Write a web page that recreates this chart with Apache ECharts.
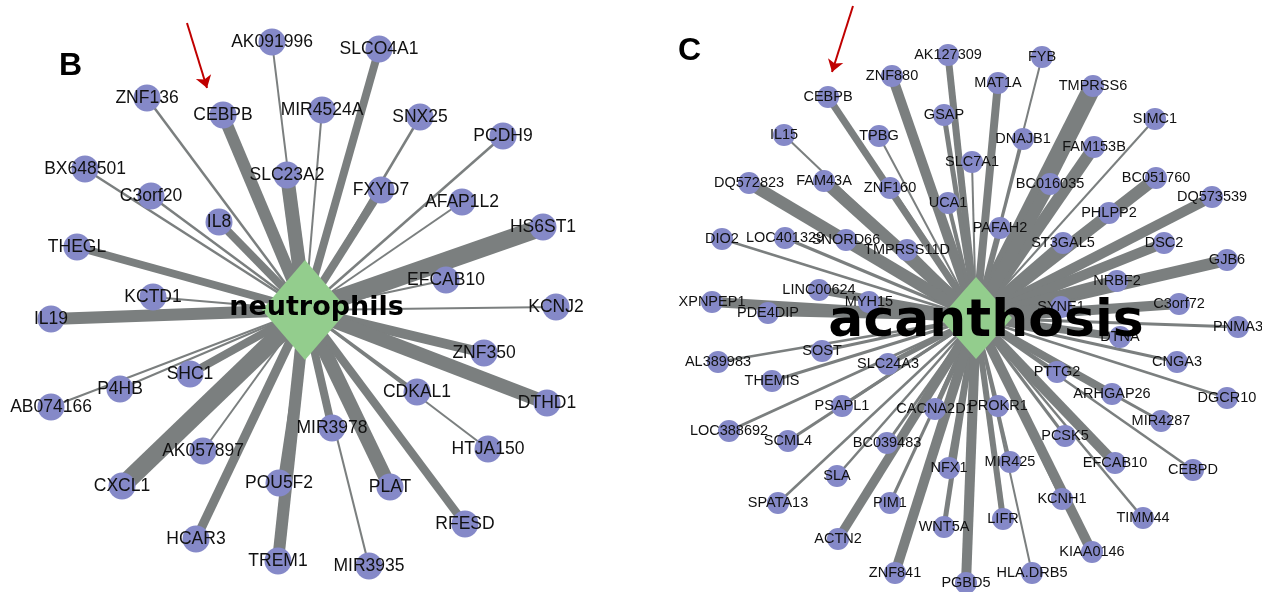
<!DOCTYPE html>
<html>
<head>
<meta charset="utf-8">
<script src="https://cdn.jsdelivr.net/npm/echarts@6/dist/echarts.min.js"></script>
<style>
  html, body { margin: 0; padding: 0; background: #fff; }
  #chart { width: 1262px; height: 592px; }
</style>
</head>
<body>
<div id="chart"></div>
<script>
// panel B: genes linked to neutrophils
const hubB = { name: 'neutrophils', x: 305, y: 310 };
const genesB = ['AK091996','ZNF136','CEBPB','MIR4524A','SLCO4A1','SNX25','PCDH9','SLC23A2','FXYD7','AFAP1L2','HS6ST1','BX648501','C3orf20','IL8','THEGL','EFCAB10','KCTD1','KCNJ2','IL19','ZNF350','SHC1','P4HB','AB074166','CDKAL1','DTHD1','MIR3978','AK057897','HTJA150','POU5F2','CXCL1','PLAT','RFESD','HCAR3','TREM1','MIR3935'];
const xB = [272,147,223,322,379,420,503,287,381,462,543,85,151,219,77,446,153,556,51,484,190,120,51,417,547,332,203,488,279,122,390,465,196,278,369];
const yB = [42,98,115,110,49,117,136,175,190,202,227,169,196,222,247,280,297,307,319,353,374,389,407,392,403,428,451,449,483,486,487,524,539,561,566];
const weightB = [2,2.5,12,2,8,2.5,2.5,14,8,2,18,2.5,2.5,8,8,2,2,2,12,10,8,2,2,3,14,8,2,2,3,18,14,8,9,12,2];

// panel C: genes linked to acanthosis
const hubC = { name: 'acanthosis', x: 976, y: 318 };
const genesC = ['CEBPB','ZNF880','AK127309','FYB','MAT1A','TMPRSS6','GSAP','SIMC1','IL15','TPBG','DNAJB1','FAM153B','SLC7A1','BC051760','FAM43A','DQ572823','BC016035','ZNF160','DQ573539','UCA1','PHLPP2','PAFAH2','DIO2','LOC401329','SNORD66','ST3GAL5','DSC2','TMPRSS11D','GJB6','NRBF2','LINC00624','XPNPEP1','MYH15','C3orf72','SYNE1','PDE4DIP','PNMA3','DTNA','SOST','AL389983','CNGA3','SLC24A3','PTTG2','THEMIS','ARHGAP26','DGCR10','PSAPL1','PROKR1','CACNA2D1','MIR4287','LOC388692','PCSK5','SCML4','BC039483','MIR425','EFCAB10','NFX1','CEBPD','SLA','KCNH1','SPATA13','PIM1','LIFR','TIMM44','WNT5A','ACTN2','KIAA0146','ZNF841','HLA.DRB5','PGBD5'];
const xC = [828,892,948,1042,998,1093,944,1155,784,879,1023,1094,972,1156,824,749,1050,890,1212,948,1109,1000,722,785,846,1063,1164,907,1227,1117,819,712,869,1179,1061,768,1238,1120,822,718,1177,888,1057,772,1112,1227,842,998,935,1161,729,1065,788,887,1010,1115,949,1193,837,1062,778,890,1003,1143,944,838,1092,895,1032,966];
const yC = [97,76,55,57,83,86,115,119,135,136,139,147,162,178,181,183,184,188,197,203,213,228,239,238,240,243,243,250,260,281,290,302,302,304,307,313,327,337,351,362,362,364,372,381,394,398,406,406,409,421,431,436,441,443,462,463,468,470,476,499,503,503,519,518,527,539,552,573,573,583];
const weightC = [7,10,7,2,8,18,5,2,2,2,2.5,12,2,12,12,12,12,5,10,4,8,6,2.5,3,10,10,10,8,12,12,8,10,6,10,12,6,3,8,3,2.5,3,5,3,3,8,2.5,3,3,5,3,3,3,3,3,3,10,5,2.5,2.5,4,2.5,3,6,2.5,5,9,10,10,2,10];

// red arrows pointing at CEBPB
const arrows = [
  [[187, 23], [207, 88]],
  [[853, 6], [832, 72]]
];
const panelLetters = ['B', 'C'];

const geneColor = '#8589c8';
const hubColor = '#93cd8d';
const edgeColor = '#7b7f7f';
const labelFont = 'Liberation Sans, Arial, sans-serif';

function buildGraph(hub, names, xs, ys, weights, nodeSize, fontSize, hubSize, hubFont, hubOffset) {
  let nodes = [];
  let links = [];
  for (let i = 0; i < names.length; i++) {
    nodes.push({
      name: names[i],
      value: [xs[i], ys[i]],
      symbolSize: nodeSize,
      label: { fontSize: fontSize }
    });
    links.push({ source: names[i], target: hub.name, lineStyle: { width: weights[i] } });
  }
  nodes.push({
    name: hub.name,
    value: [hub.x, hub.y],
    symbol: 'diamond',
    symbolSize: hubSize,
    itemStyle: { color: hubColor },
    label: {
      fontSize: hubFont,
      fontWeight: 'bold',
      fontFamily: 'DejaVu Sans, sans-serif',
      offset: hubOffset,
      color: '#000'
    }
  });
  return {
    type: 'graph',
    layout: 'none',
    coordinateSystem: 'cartesian2d',
    animation: false,
    silent: true,
    itemStyle: { color: geneColor },
    label: {
      show: true,
      position: 'inside',
      color: '#111',
      fontFamily: labelFont,
      formatter: '{b}'
    },
    lineStyle: { color: edgeColor, opacity: 1, curveness: 0 },
    emphasis: { disabled: true },
    data: nodes,
    links: links
  };
}

const letterStyle = {
  color: '#000',
  fontSize: 32,
  fontWeight: 'bold',
  fontFamily: 'Liberation Sans, Arial, sans-serif'
};

let option = {
  backgroundColor: '#fff',
  animation: false,
  title: [
    { text: panelLetters[0], left: 59, top: 50, padding: 0, textStyle: letterStyle },
    { text: panelLetters[1], left: 678, top: 35, padding: 0, textStyle: letterStyle }
  ],
  grid: { left: 0, right: 0, top: 0, bottom: 0 },
  xAxis: { type: 'value', min: 0, max: 1262, show: false },
  yAxis: { type: 'value', min: 0, max: 592, inverse: true, show: false },
  series: [
    buildGraph(hubB, genesB, xB, yB, weightB, 27, 17.5, [86, 100], 27, [11.5, -2.5]),
    buildGraph(hubC, genesC, xC, yC, weightC, 22, 14.5, [72, 82], 52, [10, 4]),
    {
      type: 'lines',
      coordinateSystem: 'cartesian2d',
      silent: true,
      symbol: ['none', 'arrow'],
      symbolSize: 12,
      lineStyle: { color: '#c00000', width: 2, opacity: 1 },
      data: arrows.map(a => ({ coords: a })),
      z: 5
    }
  ]
};

let myChart = echarts.init(document.getElementById('chart'));
myChart.setOption(option);
</script>
</body>
</html>
